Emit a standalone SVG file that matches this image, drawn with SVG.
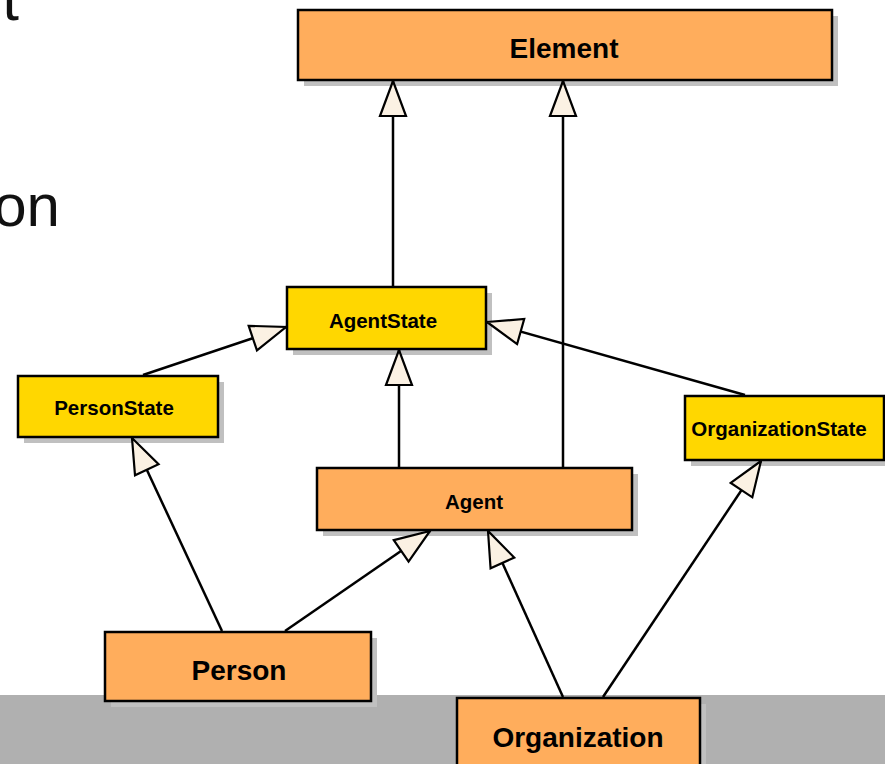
<svg xmlns="http://www.w3.org/2000/svg" width="885" height="764" viewBox="0 0 885 764">
<style>
.bg{fill:#ffffff}
.band{fill:#b0b0b0}
.shadow{fill:#c0c0c0}
.orange{fill:#ffad5c;stroke:#000;stroke-width:2.5}
.yellow{fill:#ffd700;stroke:#000;stroke-width:2.5}
.lbl{font-family:"Liberation Sans",Arial,sans-serif;font-weight:bold;fill:#000;text-anchor:middle}
.big{font-size:28px}
.small{font-size:20.5px}
.title{font-family:"Liberation Sans",Arial,sans-serif;font-size:60px;fill:#111;text-anchor:end}
.conn{fill:none;stroke:#000;stroke-width:2.5;marker-end:url(#gen)}
</style>
<defs>
<marker id="gen" markerUnits="userSpaceOnUse" viewBox="-2 -2 39 30" refX="35" refY="13" markerWidth="39" markerHeight="30" orient="auto">
<path d="M0,0 L35,13 L0,26 Z" fill="#fbf1e3" stroke="#000" stroke-width="2.2" stroke-linejoin="miter"/>
</marker>
</defs>
<rect class="bg" x="0" y="0" width="885" height="764"/>
<rect class="band" x="0" y="695" width="885" height="69"/>
<text class="title" x="19" y="20">t</text>
<text class="title" x="60" y="226">on</text>

<g id="Element">
<rect class="shadow" x="304" y="16" width="534" height="70"/>
<rect class="orange" x="298" y="10" width="534" height="70"/>
<text class="lbl big" x="564" y="58">Element</text>
</g>
<g id="AgentState">
<rect class="shadow" x="293" y="293" width="199" height="62"/>
<rect class="yellow" x="287" y="287" width="199" height="62"/>
<text class="lbl small" x="383" y="328">AgentState</text>
</g>
<g id="PersonState">
<rect class="shadow" x="24" y="382" width="200" height="61"/>
<rect class="yellow" x="18" y="376" width="200" height="61"/>
<text class="lbl small" x="114" y="415">PersonState</text>
</g>
<g id="OrganizationState">
<rect class="shadow" x="691" y="402" width="194" height="64"/>
<rect class="yellow" x="685" y="396" width="199" height="64"/>
<text class="lbl small" x="779" y="436">OrganizationState</text>
</g>
<g id="Agent">
<rect class="shadow" x="323" y="474" width="315" height="62"/>
<rect class="orange" x="317" y="468" width="315" height="62"/>
<text class="lbl small" x="474" y="509">Agent</text>
</g>
<g id="Person">
<rect class="shadow" x="111" y="638" width="266" height="69"/>
<rect class="orange" x="105" y="632" width="266" height="69"/>
<text class="lbl big" x="239" y="680">Person</text>
</g>
<g id="Organization">
<rect class="shadow" x="463" y="704" width="243" height="70"/>
<rect class="orange" x="457" y="698" width="243" height="76"/>
<text class="lbl big" x="578" y="747">Organization</text>
</g>

<g id="connectors">
<path class="conn" d="M393,286 L393,81"/>
<path class="conn" d="M563,467 L563,81"/>
<path class="conn" d="M399,467 L399,350"/>
<path class="conn" d="M143,375 L286,327"/>
<path class="conn" d="M745,395 L487,322"/>
<path class="conn" d="M222,631 L132,438"/>
<path class="conn" d="M285,631 L430,531"/>
<path class="conn" d="M563,697 L488,531"/>
<path class="conn" d="M603,697 L761,461"/>
</g>
</svg>
